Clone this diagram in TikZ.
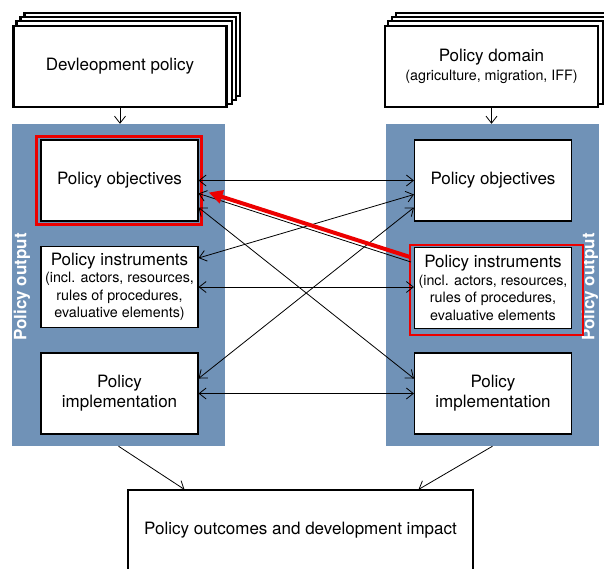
\documentclass[tikz,border=0pt]{standalone}
\usepackage{fontspec}
\setmainfont{TeX Gyre Heros}
\usetikzlibrary{calc,positioning,arrows.meta,backgrounds}
\definecolor{panelblue}{RGB}{112,146,183}
\definecolor{framered}{RGB}{236,0,0}
\tikzset{%
  box/.style={draw, line width=1.1pt, fill=white, align=center, inner sep=0pt,
    minimum width=157pt, minimum height=81pt, font=\fontsize{17}{20}\selectfont},% policy box
  stackbox/.style={box, line width=2.4pt, minimum width=213pt},% stacked input box
  stackline/.style={draw, fill=white, line width=2.4pt},% boxes behind a stack
  panel/.style={fill=panelblue, minimum width=213pt, minimum height=322pt, inner sep=0pt},% policy output panel
  paneltext/.style={white, rotate=90, font=\fontsize{17}{20}\selectfont\bfseries},% panel label
  link/.style={line width=0.8pt, {Straight Barb[length=7pt,width=11pt]}-{Straight Barb[length=7pt,width=11pt]}},% two-way link
  flow/.style={line width=0.8pt, -{Straight Barb[length=7pt,width=11pt]}},% one-way link
  redframe/.style={draw=framered, line width=2.5pt},% highlight frame
  redarrow/.style={framered, line width=4pt, -{Triangle[length=14pt,width=13pt]}}% highlighted link
}
\newcommand*{\subtext}[1]{{\fontsize{14.3}{17.5}\selectfont #1}}

\begin{document}
\begin{tikzpicture}[x=1pt, y=-1pt]
\useasboundingbox (0,0) rectangle (604,568);
\clip (0,0) rectangle (604,568);

% inputs
\node[stackbox] (dev) at (120,66.5) {Devleopment policy};
\node[stackbox] (dom) at (491.5,66.5) {Policy domain\\[-1pt]\subtext{(agriculture, migration, IFF)}};
\begin{scope}[on background layer]
  \foreach \d in {12,8,4} {
    \draw[stackline] ($(dev.south west)+(\d,-\d)$) rectangle ($(dev.north east)+(\d,-\d)$);
    \draw[stackline] ($(dom.south west)+(\d,-\d)$) rectangle ($(dom.north east)+(\d,-\d)$);
  }
\end{scope}

% policy output panels
\node[panel] (lpanel) at (118.5,285) {};
\node[panel] (rpanel) at (492.5,285) {};
\node[paneltext] (llabel) at (22,287) {Policy output};
\node[paneltext] (rlabel) at (590,287) {Policy output};

\node[box] (lo) at (119.5,180.5) {Policy objectives};
\node[box] (li) at (119.5,287) {Policy instruments\\[-2.5pt]\subtext{(incl. actors, resources,}\\[-2.5pt]\subtext{rules of procedures,}\\[-2.5pt]\subtext{evaluative elements)}};
\node[box] (lp) at (119.5,393.5) {Policy\\implementation};
\node[box] (ro) at (493,180.5) {Policy objectives};
\node[box] (ri) at (493,288) {Policy instruments\\[-2.5pt]\subtext{(incl. actors, resources,}\\[-2.5pt]\subtext{rules of procedures,}\\[-2.5pt]\subtext{evaluative elements}};
\node[box] (rp) at (493,393.5) {Policy\\implementation};

\draw[redframe] ($(lo.north west)+(-4,-3)$) rectangle ($(lo.south east)+(3,3)$);
\draw[redframe] ($(ri.north west)+(-4,-2)$) rectangle ($(ri.south east)+(11,6)$);

% outcome
\node[box, minimum width=345pt, minimum height=80pt] (out) at (300.5,530) {Policy outcomes and development impact};

% links
\draw[flow] (dev.south) -- (dev.south |- lpanel.north);
\draw[flow] (dom.south) -- (dom.south |- rpanel.north);
\draw[link] (lo.east) -- (ro.west);
\draw[flow] ($(ri.west)+(-3,-26)$) -- ($(lo.east)+(0,13)$);
\draw[link] ($(lo.east)+(0,27)$) -- ($(rp.west)+(0,-15)$);
\draw[link] ($(li.east)+(0,-29)$) -- ($(ro.west)+(0,14)$);
\draw[link] (li.east) -- (ri.west |- li.east);
\draw[link] ($(lp.east)+(0,-15)$) -- ($(ro.west)+(0,27)$);
\draw[link] (lp.east) -- (rp.west);
\draw[redarrow] ($(ri.west)+(-4,-31)$) -- ($(lo.east)+(10,12)$);
\draw[flow] (lpanel.south) -- ($(out.north west)+(57,0)$);
\draw[flow] (rpanel.south) -- ($(out.north east)+(-55,0)$);

\end{tikzpicture}
\end{document}
